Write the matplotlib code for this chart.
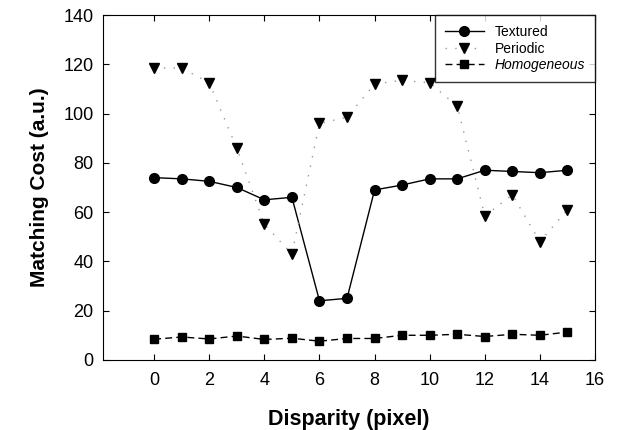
import numpy as np
import matplotlib.pyplot as plt

plt.rcParams['font.family'] = ['Liberation Sans', 'DejaVu Sans']

# values
disparity = np.arange(16)
textured = [74, 73.5, 72.5, 70, 65, 66, 24, 25, 69, 71, 73.5, 73.5, 77, 76.5, 76, 77]
periodic = [118.5, 118.5, 112.5, 86, 55, 43, 96, 98.5, 112, 113.5, 112.5, 103, 58.5, 67, 48, 61]
homogeneous = [8.4, 9.3, 8.5, 9.7, 8.3, 8.8, 7.6, 8.7, 8.7, 10, 10, 10.4, 9.5, 10.4, 10, 11.3]

fig = plt.figure(figsize=(6.29, 4.30), dpi=100)
ax = fig.add_axes([0.164, 0.163, 0.782, 0.802])

ax.plot(disparity, textured, color='black', linestyle='-', linewidth=1.0,
        marker='o', markersize=7, label='Textured')
ax.plot(disparity, periodic, color='#999999', linestyle=(0, (1, 6)), linewidth=1.0,
        marker='v', markersize=7, markerfacecolor='black', markeredgecolor='black',
        label='Periodic')
ax.plot(disparity, homogeneous, color='black', linestyle=(0, (5, 3)), linewidth=1.0,
        marker='s', markersize=6, label='Homogeneous')

ax.set_xlim(-1.85, 16)
ax.set_ylim(0, 140)
ax.set_xticks(np.arange(0, 17, 2))
ax.set_yticks(np.arange(0, 141, 20))
ax.tick_params(direction='in', top=True, right=True, labelsize=13, length=4)
ax.tick_params(axis='x', pad=9)
ax.tick_params(axis='y', pad=7)

ax.set_xlabel('Disparity (pixel)', fontsize=15.5, fontweight='bold', labelpad=14)
ax.set_ylabel('Matching Cost (a.u.)', fontsize=15, fontweight='bold', labelpad=10)

leg = ax.legend(loc='upper right', fontsize=10, frameon=True, fancybox=False,
                borderaxespad=0, handlelength=2.8, labelspacing=0.2, borderpad=0.7)
leg.get_frame().set_edgecolor('black')
leg.get_frame().set_linewidth(1.0)
leg.get_texts()[2].set_style('italic')

fig.savefig('out.png', dpi=100)
